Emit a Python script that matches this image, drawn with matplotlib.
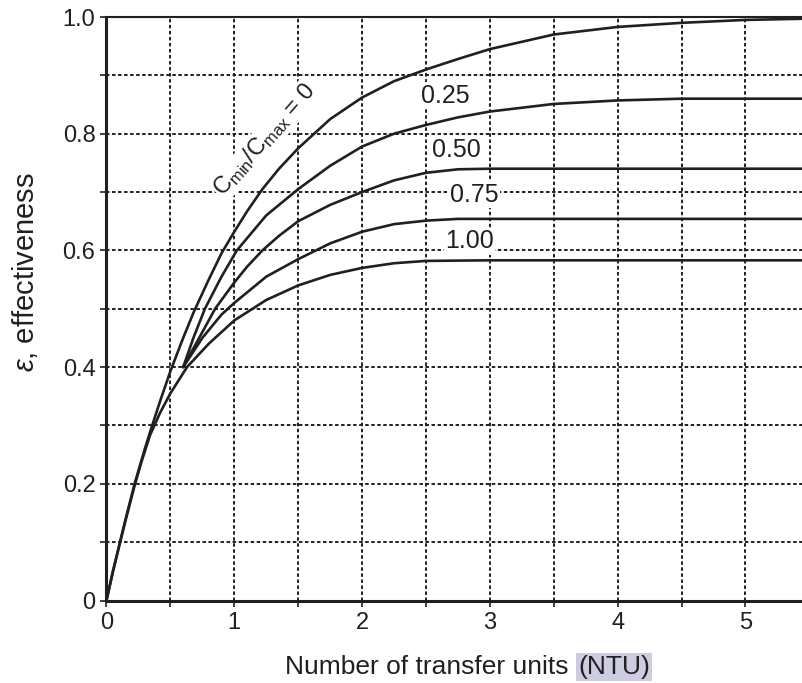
import numpy as np
import matplotlib
matplotlib.use('Agg')
import matplotlib.pyplot as plt

plt.rcParams['font.family'] = ['Liberation Sans', 'DejaVu Sans']
plt.rcParams['mathtext.fontset'] = 'custom'
plt.rcParams['mathtext.rm'] = 'Liberation Sans'
plt.rcParams['mathtext.it'] = 'Liberation Sans:italic'

# values (NTU, effectiveness)
ntu_c000 = [0, 0.05, 0.1, 0.15, 0.22, 0.3, 0.35, 0.42, 0.5, 0.6, 0.68, 0.8, 0.9, 1.0, 1.1, 1.22,
            1.35, 1.5, 1.75, 2.0, 2.25, 2.5, 2.75, 3.0, 3.5, 4.0, 4.5, 5.0, 5.45]
eff_c000 = [0, 0.05, 0.095, 0.14, 0.2, 0.26, 0.295, 0.342, 0.393, 0.45, 0.493, 0.55, 0.595, 0.632, 0.667, 0.705,
            0.74, 0.775, 0.825, 0.862, 0.89, 0.91, 0.928, 0.945, 0.97, 0.983, 0.99, 0.995, 0.997]

ntu_c025 = [0.6, 0.68, 0.77, 0.9, 1.02, 1.25, 1.5, 1.75, 2.0, 2.25, 2.5, 2.75, 3.0, 3.5, 4.0, 4.5, 5.45]
eff_c025 = [0.40, 0.45, 0.50, 0.555, 0.60, 0.66, 0.705, 0.745, 0.778, 0.80, 0.815, 0.828, 0.838, 0.851, 0.857, 0.86, 0.86]

ntu_c050 = [0.6, 0.7, 0.85, 1.0, 1.1, 1.22, 1.35, 1.5, 1.75, 2.0, 2.25, 2.5, 2.75, 3.0, 5.45]
eff_c050 = [0.40, 0.44, 0.50, 0.545, 0.572, 0.60, 0.625, 0.65, 0.678, 0.70, 0.72, 0.733, 0.739, 0.74, 0.74]

ntu_c075 = [0.6, 0.75, 0.9, 1.0, 1.25, 1.5, 1.75, 2.0, 2.25, 2.5, 2.75, 3.0, 5.45]
eff_c075 = [0.40, 0.45, 0.49, 0.51, 0.555, 0.585, 0.612, 0.632, 0.645, 0.651, 0.654, 0.654, 0.654]

ntu_c100 = [0, 0.05, 0.1, 0.15, 0.22, 0.27, 0.34, 0.42, 0.5, 0.63, 0.8, 1.0, 1.25, 1.5, 1.75, 2.0,
            2.25, 2.5, 3.0, 5.45]
eff_c100 = [0, 0.049, 0.094, 0.138, 0.197, 0.235, 0.283, 0.322, 0.355, 0.40, 0.44, 0.48, 0.515, 0.54,
            0.558, 0.57, 0.578, 0.582, 0.583, 0.583]

curve_labels = ['0.25', '0.50', '0.75', '1.00']
label_x = [2.65, 2.74, 2.88, 2.84]
label_y = [0.865, 0.772, 0.695, 0.616]

ink = '#231f20'

fig = plt.figure(figsize=(8.03, 6.83), dpi=100)
ax = fig.add_axes([106.5 / 803, 82.5 / 683, (803 - 106.5) / 803, (600.5 - 17) / 683])

for xs, ys in [(ntu_c000, eff_c000), (ntu_c025, eff_c025), (ntu_c050, eff_c050),
               (ntu_c075, eff_c075), (ntu_c100, eff_c100)]:
    ax.plot(xs, ys, color=ink, lw=1.9, zorder=3, solid_joinstyle='round', solid_capstyle='round')

ax.set_xlim(0, 5.45)
ax.set_ylim(0, 1.0)

ax.set_xticks([0, 1, 2, 3, 4, 5])
ax.set_xticks(np.arange(0.5, 5.5, 1.0), minor=True)
ax.set_yticks([0, 0.2, 0.4, 0.6, 0.8, 1.0])
ax.set_yticklabels(['0', '0.2', '0.4', '0.6', '0.8', '1.0'])
ax.set_yticks(np.arange(0.1, 1.0, 0.2), minor=True)

ax.grid(which='both', linestyle=(0, (1.8, 1.3)), linewidth=1.4, color=ink, zorder=1)
ax.tick_params(which='both', direction='out', length=4, width=1.2, color=ink,
               labelsize=17, pad=4, labelcolor=ink)

for s in ['left', 'bottom']:
    ax.spines[s].set_linewidth(2.2)
    ax.spines[s].set_color(ink)
ax.spines['top'].set_linewidth(1.5)
ax.spines['top'].set_color(ink)
ax.spines['right'].set_visible(False)

white = dict(facecolor='white', edgecolor='none', pad=1.0)

ax.text(1.24, 0.79, r'$\mathrm{C_{min}/C_{max}}$ = 0', rotation=48.5, fontsize=17,
        ha='center', va='center', color=ink, bbox=white, zorder=2,
        rotation_mode='anchor')

for lab, lx, ly in zip(curve_labels, label_x, label_y):
    ax.text(lx, ly, lab, fontsize=18, ha='center', va='center', color=ink, bbox=white, zorder=2)

fig.text(25 / 803, 1 - 272 / 683, r'$\varepsilon$, effectiveness', rotation=90,
         fontsize=21, ha='center', va='center', color=ink)

fig.text(569 / 803, 9 / 683, 'Number of transfer units', fontsize=19,
         ha='right', va='baseline', color=ink)
fig.text(578 / 803, 9 / 683, '(NTU)', fontsize=19, ha='left', va='baseline', color=ink,
         bbox=dict(facecolor='#cdcde2', edgecolor='none', pad=1.5))

fig.savefig('out.png', dpi=100)
